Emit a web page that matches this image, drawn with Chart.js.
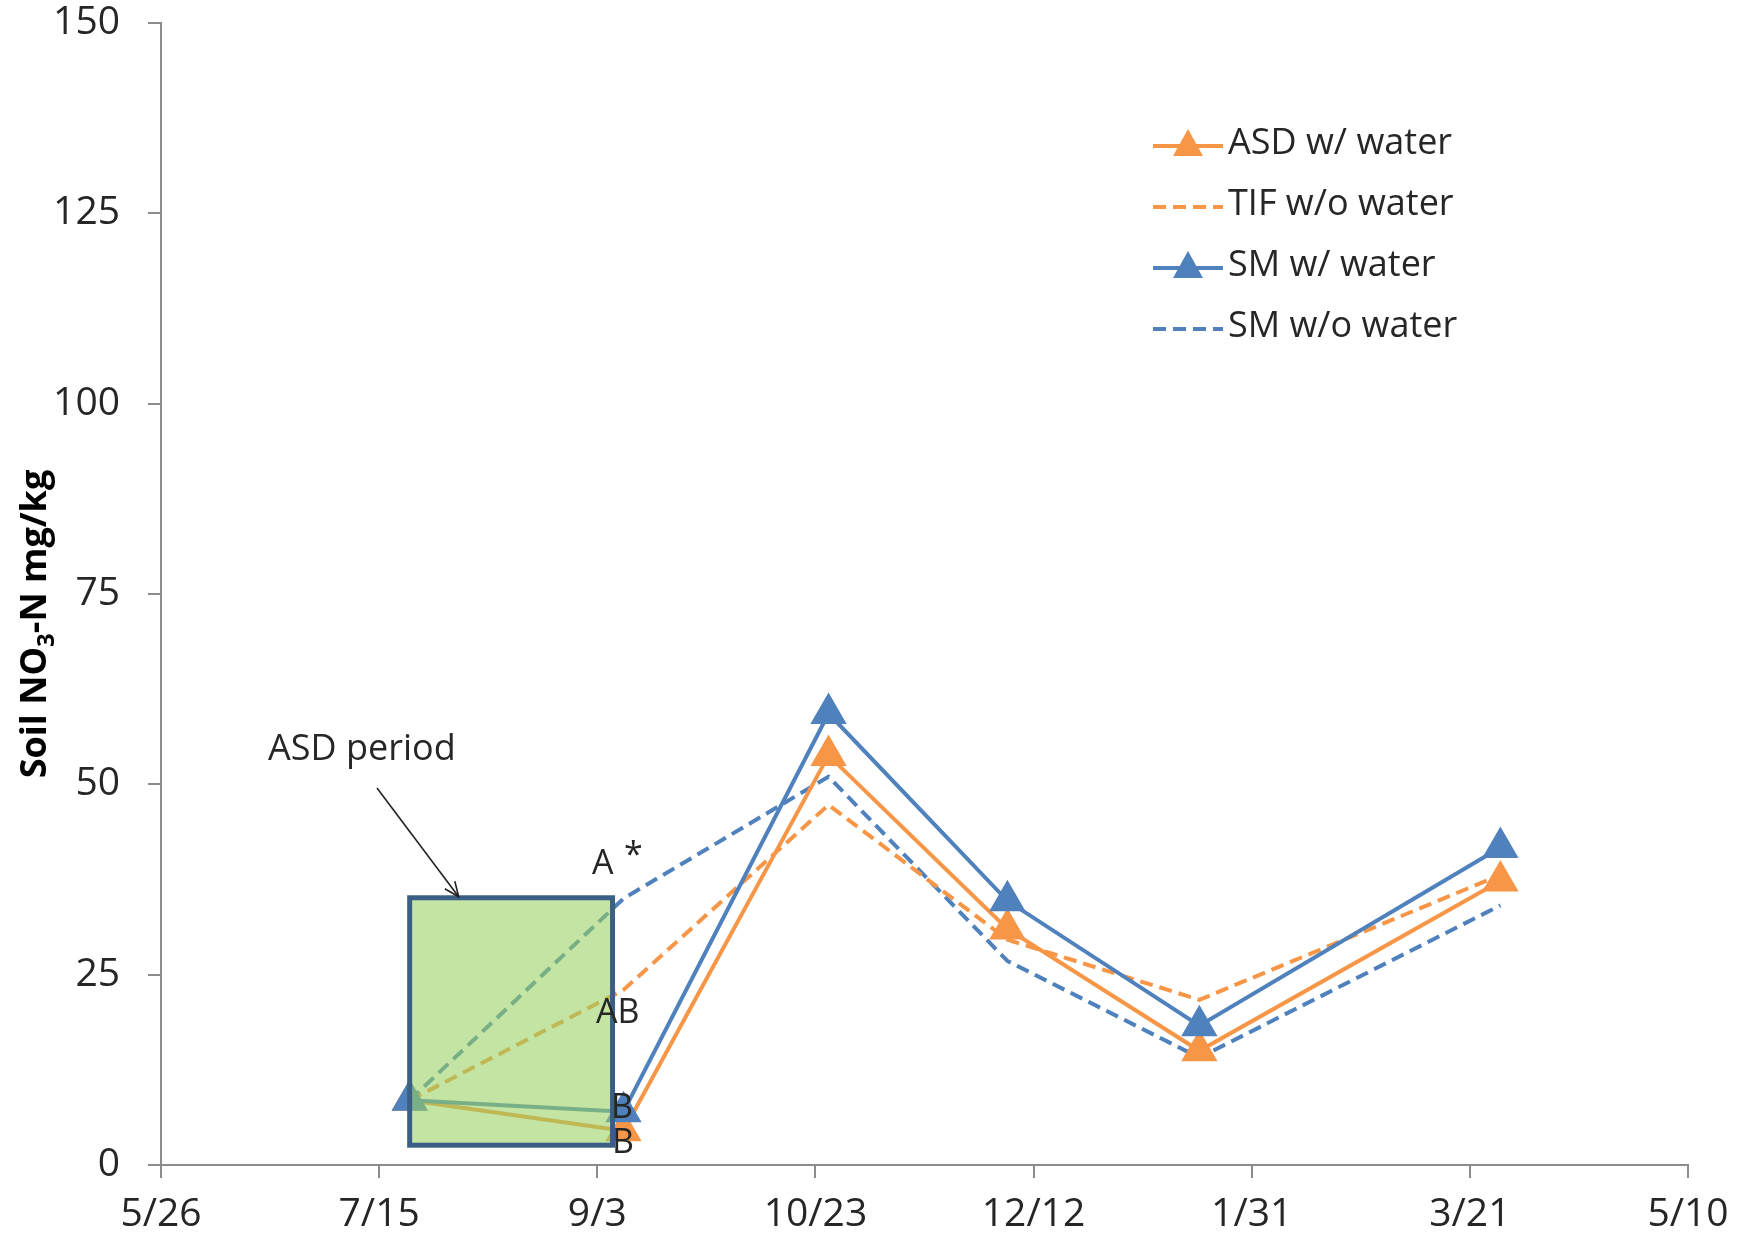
<!DOCTYPE html>
<html>
<head>
<meta charset="utf-8">
<script src="https://cdn.jsdelivr.net/npm/chart.js@4/dist/chart.umd.min.js"></script>
<style>
  html, body { margin: 0; padding: 0; background: #fff; }
  #wrap { width: 1748px; height: 1242px; }
</style>
</head>
<body>
<div id="wrap"><canvas id="lineChart1" width="1748" height="1242"></canvas></div>
<script>
// x axis: days after 5/26, one tick every 50 days
var tickLabels = ['5/26', '7/15', '9/3', '10/23', '12/12', '1/31', '3/21', '5/10'];
var sampleDays = [57, 106, 153, 194, 238, 307];

// soil NO3-N, mg/kg
var asdWater   = [8.5, 4.5, 53.8, 31.0, 15.0, 37.3];
var tifNoWater = [8.5, 23.0, 47.3, 29.6, 21.7, 38.1];
var smWater    = [8.5, 7.0, 59.3, 34.7, 18.3, 41.7];
var smNoWater  = [8.5, 35.0, 51.0, 26.8, 14.1, 34.1];

var seriesNames = ['ASD w/ water', 'TIF w/o water', 'SM w/ water', 'SM w/o water'];

var ORANGE = '#f79646';
var BLUE = '#4f81bd';
var AXIS = '#8c8c8c';
var TEXT = '#262626';
var FONT = "'Open Sans', 'DejaVu Sans', sans-serif";
var DASH = [13, 7];

function toPoints(values) {
    return values.map(function(v, i) { return { x: sampleDays[i], y: v }; });
}

function series(label, values, color, dashed, order) {
    return {
        label: label,
        data: toPoints(values),
        order: order,
        borderColor: color,
        backgroundColor: color,
        borderWidth: 4,
        borderDash: dashed ? DASH : [],
        pointStyle: 'triangle',
        pointRadius: dashed ? 0 : 21,
        pointBorderWidth: 0,
        pointHoverRadius: dashed ? 0 : 21,
        tension: 0,
        fill: false
    };
}

// ASD period box, in data units
var asdBox = { x0: 57, x1: 103.5, y0: 2.6, y1: 35.1 };

var overlay = {
    id: 'overlay',
    afterDatasetsDraw: function(chart) {
        var c = chart.ctx;
        var xs = chart.scales.x, ys = chart.scales.y;
        var px = function(v) { return xs.getPixelForValue(v); };
        var py = function(v) { return ys.getPixelForValue(v); };

        // shaded ASD period
        c.save();
        var bx = px(asdBox.x0), by = py(asdBox.y1);
        var bw = px(asdBox.x1) - bx, bh = py(asdBox.y0) - by;
        c.fillStyle = 'rgba(152, 208, 96, 0.58)';
        c.fillRect(bx, by, bw, bh);
        c.lineWidth = 5;
        c.strokeStyle = '#3b5e85';
        c.strokeRect(bx, by, bw, bh);

        // arrow
        var ax0 = 377, ay0 = 788, ax1 = bx + 49, ay1 = by - 1;
        c.lineWidth = 1.6;
        c.strokeStyle = '#222';
        c.beginPath();
        c.moveTo(ax0, ay0);
        c.lineTo(ax1, ay1);
        c.stroke();
        var ang = Math.atan2(ay1 - ay0, ax1 - ax0);
        c.beginPath();
        c.moveTo(ax1 - 16 * Math.cos(ang - 0.4), ay1 - 16 * Math.sin(ang - 0.4));
        c.lineTo(ax1, ay1);
        c.lineTo(ax1 - 16 * Math.cos(ang + 0.4), ay1 - 16 * Math.sin(ang + 0.4));
        c.stroke();

        // annotation text
        c.fillStyle = TEXT;
        c.font = '36px ' + FONT;
        c.textBaseline = 'alphabetic';
        c.textAlign = 'left';
        c.fillText('ASD period', 268, 760);
        c.font = '34px ' + FONT;
        c.fillText('A', 592, 874);
        c.fillText('*', 624, 866);
        c.fillText('AB', 596, 1023);
        c.fillText('B', 611, 1118);
        c.fillText('B', 612, 1153);

        // y axis title with subscript
        c.save();
        c.translate(36, 624);
        c.rotate(-Math.PI / 2);
        var big = 'bold 36px ' + FONT, small = 'bold 24px ' + FONT;
        var p1 = 'Soil NO', p2 = '-N mg/kg';
        c.font = big;
        var w1 = c.measureText(p1).width;
        var w2 = c.measureText(p2).width;
        c.font = small;
        var ws = c.measureText('3').width;
        var start = -(w1 + ws + w2) / 2;
        c.textAlign = 'left';
        c.textBaseline = 'middle';
        c.fillStyle = '#000';
        c.font = big;
        c.fillText(p1, start, 0);
        c.font = small;
        c.fillText('3', start + w1, 11);
        c.font = big;
        c.fillText(p2, start + w1 + ws, 0);
        c.restore();

        // legend
        var rows = [146, 207, 268, 329];
        var styles = [[ORANGE, false], [ORANGE, true], [BLUE, false], [BLUE, true]];
        c.font = '36px ' + FONT;
        c.textBaseline = 'middle';
        rows.forEach(function(ry, i) {
            var col = styles[i][0], dashed = styles[i][1];
            c.strokeStyle = col;
            c.lineWidth = 4;
            c.setLineDash(dashed ? DASH : []);
            c.beginPath();
            c.moveTo(1153, ry);
            c.lineTo(1223, ry);
            c.stroke();
            c.setLineDash([]);
            if (!dashed) {
                c.fillStyle = col;
                c.beginPath();
                c.moveTo(1188, ry - 17);
                c.lineTo(1203, ry + 10);
                c.lineTo(1173, ry + 10);
                c.closePath();
                c.fill();
            }
            c.fillStyle = TEXT;
            c.fillText(seriesNames[i], 1228, ry - 2);
        });
        c.restore();
    }
};

var ctx1 = document.getElementById('lineChart1').getContext('2d');

new Chart(ctx1, {
    type: 'line',
    data: {
        datasets: [
            series(seriesNames[0], asdWater, ORANGE, false, 1),
            series(seriesNames[1], tifNoWater, ORANGE, true, 2),
            series(seriesNames[2], smWater, BLUE, false, 0),
            series(seriesNames[3], smNoWater, BLUE, true, 3)
        ]
    },
    options: {
        responsive: false,
        devicePixelRatio: 1,
        animation: false,
        layout: { padding: { top: 23, right: 60, left: 0, bottom: 0 } },
        plugins: {
            legend: { display: false },
            tooltip: { enabled: false },
            title: { display: false }
        },
        scales: {
            x: {
                type: 'linear',
                min: 0,
                max: 350,
                afterFit: function(scale) {
                    scale.height = 77;
                    scale.paddingLeft = 0;
                    scale.paddingRight = 0;
                },
                ticks: {
                    stepSize: 50,
                    padding: 13,
                    color: TEXT,
                    font: { family: FONT, size: 39 },
                    maxRotation: 0,
                    callback: function(value) { return tickLabels[Math.round(value / 50)]; }
                },
                grid: { drawOnChartArea: false, drawTicks: true, tickLength: 13, color: AXIS, lineWidth: 2 },
                border: { display: true, color: AXIS, width: 2 }
            },
            y: {
                min: 0,
                max: 150,
                afterFit: function(scale) {
                    scale.width = 161;
                    scale.paddingTop = 0;
                    scale.paddingBottom = 0;
                },
                ticks: {
                    stepSize: 25,
                    padding: 28,
                    color: TEXT,
                    font: { family: FONT, size: 39 }
                },
                grid: { drawOnChartArea: false, drawTicks: true, tickLength: 13, color: AXIS, lineWidth: 2 },
                border: { display: true, color: AXIS, width: 2 }
            }
        }
    },
    plugins: [overlay]
});
</script>
</body>
</html>
